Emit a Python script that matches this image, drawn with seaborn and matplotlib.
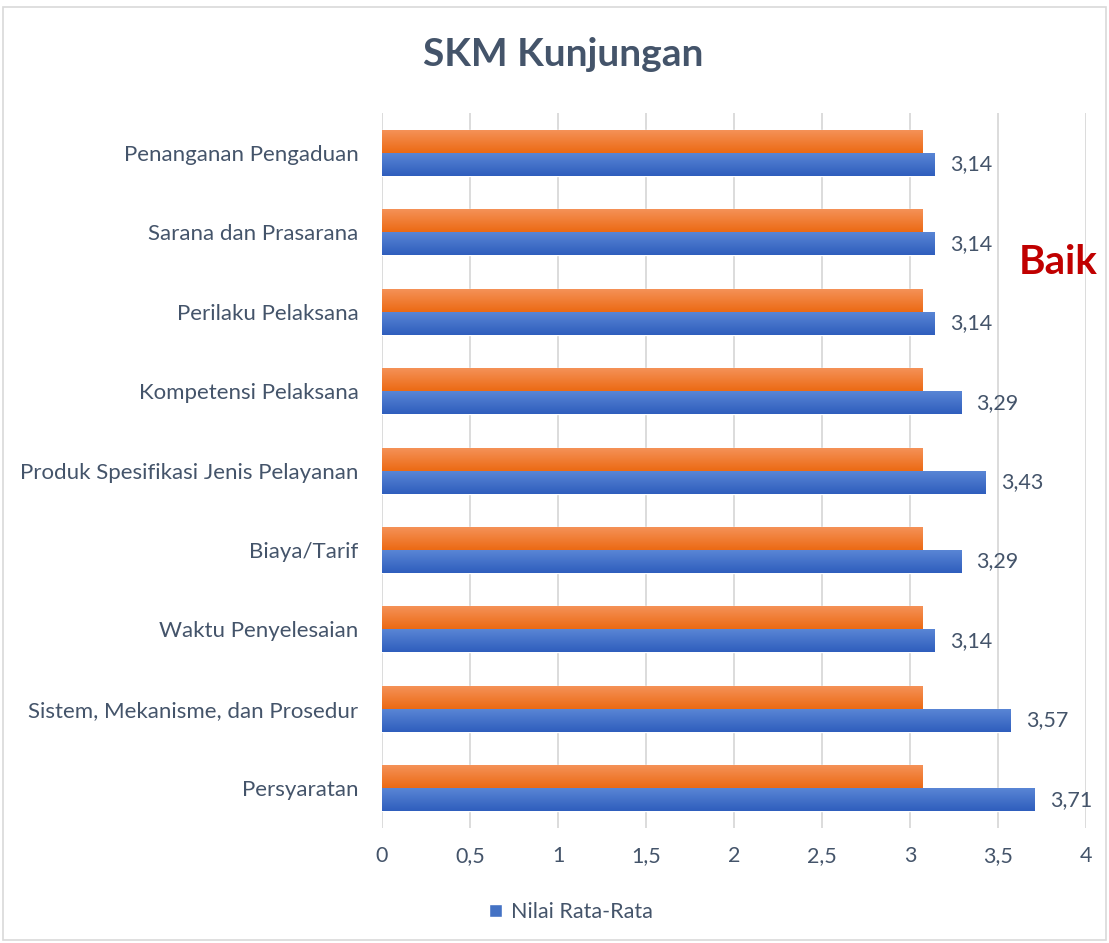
import matplotlib
matplotlib.use("Agg")
import matplotlib.pyplot as plt
import numpy as np
import pandas as pd
import seaborn as sns
from matplotlib.colors import LinearSegmentedColormap
from matplotlib.patches import Patch, Rectangle
from matplotlib.ticker import FuncFormatter, MultipleLocator

# data (urutan dari atas ke bawah)
aspek = [
    "Penanganan Pengaduan",
    "Sarana dan Prasarana",
    "Perilaku Pelaksana",
    "Kompetensi Pelaksana",
    "Produk Spesifikasi Jenis Pelayanan",
    "Biaya/Tarif",
    "Waktu Penyelesaian",
    "Sistem, Mekanisme, dan Prosedur",
    "Persyaratan",
]
nilai_rata = [3.14, 3.14, 3.14, 3.29, 3.43, 3.29, 3.14, 3.57, 3.71]
batas_baik = [3.07, 3.07, 3.07, 3.07, 3.07, 3.07, 3.07, 3.07, 3.07]

df = pd.DataFrame({
    "aspek": aspek * 2,
    "nilai": batas_baik + nilai_rata,
    "seri": ["Batas"] * len(aspek) + ["Nilai Rata-Rata"] * len(aspek),
})

teks = "#44546A"
oranye = "#F07A24"
biru = "#4472C4"

sns.set_theme(style="white")
plt.rcParams["font.family"] = ["Lato", "DejaVu Sans"]

fig = plt.figure(figsize=(11.09, 9.43), dpi=100)
ax = fig.add_axes([0.3445, 0.122, 0.6348, 0.758])

sns.barplot(data=df, x="nilai", y="aspek", hue="seri", order=aspek,
            hue_order=["Batas", "Nilai Rata-Rata"], palette=[oranye, biru],
            orient="h", width=0.58, gap=0, dodge=True, legend=False,
            saturation=1, ax=ax)

# gradasi warna pada batang
cm_oranye = LinearSegmentedColormap.from_list("o", ["#F5935A", "#EC6A14"])
cm_biru = LinearSegmentedColormap.from_list("b", ["#5B87D6", "#2F5EBD"])
grad = np.linspace(0, 1, 64).reshape(-1, 1)
for cont, cm in zip(ax.containers, [cm_oranye, cm_biru]):
    for p in cont:
        x0, y0 = p.get_x(), p.get_y()
        w, h = p.get_width(), p.get_height()
        im = ax.imshow(grad, cmap=cm, aspect="auto", origin="upper",
                       extent=(x0, x0 + w, y0 + h, y0), zorder=p.get_zorder() + 0.1)
        im.set_clip_path(p)

ax.set_xlim(0, 4)
ax.set_ylim(len(aspek) - 0.5, -0.5)

lbl = [f"{v:.2f}".replace(".", ",") for v in ax.containers[1].datavalues]
ax.bar_label(ax.containers[1], labels=lbl, padding=11, fontsize=15.5, color=teks)

ax.xaxis.set_major_locator(MultipleLocator(0.5))
ax.xaxis.set_major_formatter(FuncFormatter(lambda v, _: f"{v:g}".replace(".", ",")))
ax.grid(axis="x", color="#D9D9D9", linewidth=1.3)
ax.set_axisbelow(True)
for s in ax.spines.values():
    s.set_visible(False)
ax.tick_params(axis="x", length=0, pad=13, labelsize=15.5, labelcolor=teks)
ax.tick_params(axis="y", length=0, pad=17, labelsize=16, labelcolor=teks)
ax.set_xlabel("")
ax.set_ylabel("")

fig.text(0.508, 1 - 55 / 943, "SKM Kunjungan", ha="center", va="center",
         fontsize=28, fontweight="bold", color=teks)
fig.text(1058 / 1109, 1 - 262 / 943, "Baik", ha="center", va="center",
         fontsize=29, fontweight="bold", color="#C00000")

fig.legend(handles=[Patch(facecolor=biru)], labels=["Nilai Rata-Rata"],
           loc="center", bbox_to_anchor=(0.515, 1 - 912 / 943), frameon=False,
           fontsize=15.5, labelcolor=teks, handlelength=0.6, handleheight=0.6,
           handletextpad=0.4)

fig.patches.append(Rectangle((3 / 1109, 3 / 943), 1103 / 1109, 933 / 943,
                             transform=fig.transFigure, fill=False,
                             edgecolor="#D9D9D9", linewidth=1.2))

fig.savefig("out.png", dpi=100)
